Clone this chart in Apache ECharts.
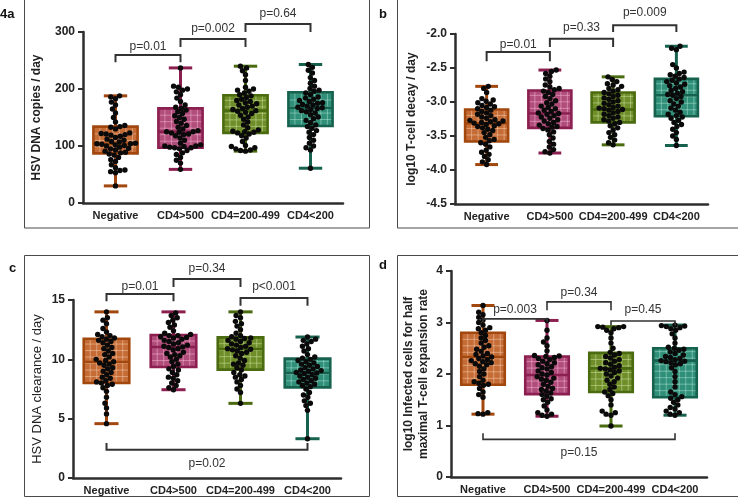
<!DOCTYPE html>
<html><head><meta charset="utf-8">
<script src="https://cdn.jsdelivr.net/npm/echarts@6/dist/echarts.min.js"></script>
<style>html,body{margin:0;padding:0;background:#fff}#c{width:738px;height:503px}</style>
</head><body><div id="c"></div>
<script>
// ---------- data ----------
const categories = ['Negative', 'CD4>500', 'CD4=200-499', 'CD4<200'];

// box statistics [min, Q1, median, Q3, max] per category
const boxA = [[30, 87, 104, 134, 188], [59, 97, 125, 166, 237], [91, 123, 162, 189, 240], [61, 135, 167, 194, 243]];
const boxB = [[-3.92, -3.58, -3.31, -3.11, -2.77], [-3.75, -3.38, -3.17, -2.83, -2.53], [-3.63, -3.30, -3.11, -2.86, -2.63], [-3.64, -3.21, -2.90, -2.66, -2.18]];
const boxC = [[4.58, 8.0, 9.78, 11.74, 14.0], [7.44, 9.35, 11.04, 12.05, 14.0], [6.29, 9.13, 10.87, 11.85, 14.0], [3.31, 7.64, 8.85, 10.06, 11.88]];
const boxD = [[1.22, 1.79, 2.33, 2.80, 3.33], [1.18, 1.61, 1.98, 2.34, 3.04], [0.99, 1.65, 2.11, 2.41, 2.92], [1.20, 1.55, 2.26, 2.50, 2.95]];

// individual points
const ptsA_neg = [30, 53, 55, 57, 58, 62, 67, 73, 76, 80, 84, 86, 88, 89, 91, 93, 95, 96, 98, 100, 101, 102, 103, 104, 104, 105, 107, 108, 110, 112, 115, 117, 119, 120, 121, 122, 123, 130, 134, 133, 136, 142, 150, 158, 165, 172, 177, 183, 186, 188];
const ptsA_500 = [59, 70, 75, 80, 85, 88, 92, 95, 97, 97, 98, 99, 100, 100, 102, 105, 110, 114, 118, 120, 121, 123, 124, 125, 125, 127, 130, 133, 136, 140, 143, 147, 150, 153, 157, 160, 163, 166, 168, 172, 178, 184, 190, 195, 198, 200, 203, 205, 237];
const ptsA_200 = [91, 92, 93, 95, 97, 99, 101, 108, 114, 118, 121, 123, 124, 125, 126, 128, 132, 137, 142, 147, 151, 154, 157, 159, 161, 162, 164, 166, 168, 170, 172, 174, 176, 178, 180, 182, 185, 188, 190, 193, 196, 198, 200, 203, 215, 225, 232, 237, 240];
const ptsA_lt = [61, 93, 97, 100, 105, 110, 115, 120, 124, 127, 131, 134, 137, 141, 145, 148, 151, 155, 158, 160, 162, 164, 166, 167, 168, 170, 172, 173, 175, 176, 178, 180, 182, 184, 186, 190, 193, 196, 198, 201, 205, 210, 215, 220, 228, 233, 238, 243];

const ptsB_neg = [-3.92, -3.88, -3.85, -3.80, -3.77, -3.74, -3.71, -3.66, -3.62, -3.60, -3.57, -3.55, -3.52, -3.48, -3.45, -3.42, -3.40, -3.38, -3.36, -3.35, -3.33, -3.32, -3.31, -3.30, -3.29, -3.28, -3.27, -3.26, -3.24, -3.22, -3.20, -3.18, -3.16, -3.14, -3.12, -3.10, -3.08, -3.07, -3.05, -3.03, -3.01, -2.99, -2.97, -2.95, -2.86, -2.80, -2.77];
const ptsB_500 = [-3.75, -3.73, -3.70, -3.66, -3.62, -3.58, -3.53, -3.48, -3.44, -3.41, -3.39, -3.37, -3.36, -3.34, -3.32, -3.30, -3.28, -3.26, -3.24, -3.22, -3.20, -3.18, -3.17, -3.16, -3.14, -3.12, -3.10, -3.08, -3.06, -3.03, -3.01, -2.98, -2.95, -2.92, -2.89, -2.86, -2.84, -2.82, -2.80, -2.78, -2.75, -2.70, -2.66, -2.62, -2.58, -2.55, -2.53];
const ptsB_200 = [-3.63, -3.60, -3.56, -3.52, -3.48, -3.45, -3.41, -3.38, -3.35, -3.32, -3.30, -3.28, -3.26, -3.24, -3.22, -3.20, -3.18, -3.16, -3.14, -3.12, -3.11, -3.10, -3.09, -3.08, -3.06, -3.04, -3.02, -3.00, -2.98, -2.96, -2.94, -2.92, -2.90, -2.88, -2.86, -2.84, -2.82, -2.80, -2.77, -2.75, -2.73, -2.70, -2.67, -2.63];
const ptsB_lt = [-3.64, -3.55, -3.50, -3.45, -3.40, -3.36, -3.33, -3.30, -3.27, -3.24, -3.22, -3.20, -3.18, -3.15, -3.12, -3.09, -3.06, -3.03, -3.00, -2.98, -2.95, -2.92, -2.90, -2.89, -2.87, -2.85, -2.83, -2.80, -2.78, -2.76, -2.74, -2.72, -2.70, -2.68, -2.66, -2.64, -2.62, -2.60, -2.58, -2.56, -2.50, -2.45, -2.23, -2.21, -2.18];

const ptsC_neg = [4.58, 5.4, 5.9, 6.3, 6.8, 7.3, 7.6, 7.8, 7.9, 8.0, 8.1, 8.2, 8.4, 8.5, 8.7, 8.9, 9.0, 9.2, 9.3, 9.5, 9.6, 9.7, 9.8, 9.9, 10.0, 10.2, 10.4, 10.5, 10.7, 10.9, 11.0, 11.2, 11.4, 11.5, 11.6, 11.7, 11.8, 11.9, 12.0, 12.1, 12.3, 12.6, 13.0, 13.3, 13.5, 14.0];
const ptsC_500 = [7.44, 7.6, 7.8, 8.0, 8.2, 8.4, 8.5, 8.7, 8.9, 9.1, 9.2, 9.4, 9.6, 9.8, 10.0, 10.2, 10.3, 10.4, 10.5, 10.6, 10.8, 10.9, 11.0, 11.05, 11.1, 11.2, 11.3, 11.4, 11.5, 11.6, 11.7, 11.8, 11.85, 11.9, 12.0, 12.0, 12.1, 12.2, 12.4, 12.7, 12.9, 13.1, 13.3, 13.5, 13.7, 13.9];
const ptsC_200 = [6.29, 7.2, 7.5, 7.8, 8.1, 8.3, 8.5, 8.6, 8.7, 8.9, 9.1, 9.3, 9.5, 9.6, 9.7, 9.9, 10.1, 10.3, 10.5, 10.6, 10.7, 10.8, 10.85, 10.9, 11.0, 11.1, 11.2, 11.3, 11.4, 11.5, 11.6, 11.7, 11.75, 11.8, 11.9, 12.0, 12.2, 12.5, 12.8, 13.0, 13.2, 13.5, 13.7, 14.0];
const ptsC_lt = [3.31, 5.7, 6.1, 6.3, 6.5, 6.8, 7.0, 7.2, 7.5, 7.7, 7.8, 7.9, 8.0, 8.1, 8.2, 8.3, 8.4, 8.5, 8.6, 8.7, 8.8, 8.85, 8.9, 9.0, 9.05, 9.1, 9.2, 9.3, 9.4, 9.5, 9.6, 9.7, 9.8, 9.9, 10.0, 10.1, 10.2, 10.4, 10.7, 10.9, 11.1, 11.3, 11.5, 11.6, 11.7, 11.88];

const ptsD_neg = [1.22, 1.23, 1.25, 1.55, 1.60, 1.65, 1.72, 1.78, 1.80, 1.82, 1.85, 1.88, 1.95, 2.0, 2.05, 2.10, 2.15, 2.18, 2.20, 2.22, 2.24, 2.26, 2.28, 2.30, 2.33, 2.35, 2.38, 2.40, 2.44, 2.48, 2.52, 2.55, 2.60, 2.65, 2.70, 2.75, 2.80, 2.85, 2.88, 2.90, 2.95, 3.00, 3.05, 3.10, 3.15, 3.20, 3.33];
const ptsD_500 = [1.18, 1.20, 1.22, 1.25, 1.30, 1.38, 1.45, 1.50, 1.52, 1.57, 1.60, 1.63, 1.67, 1.70, 1.72, 1.76, 1.80, 1.84, 1.88, 1.90, 1.92, 1.95, 1.98, 2.00, 2.03, 2.06, 2.10, 2.12, 2.14, 2.18, 2.20, 2.22, 2.25, 2.28, 2.30, 2.32, 2.34, 2.35, 2.36, 2.45, 2.55, 2.62, 2.70, 2.85, 3.04];
const ptsD_200 = [0.99, 1.20, 1.22, 1.25, 1.28, 1.40, 1.50, 1.58, 1.62, 1.65, 1.70, 1.75, 1.80, 1.85, 1.88, 1.92, 1.96, 2.00, 2.03, 2.06, 2.08, 2.10, 2.11, 2.13, 2.16, 2.19, 2.22, 2.25, 2.28, 2.31, 2.34, 2.37, 2.40, 2.42, 2.50, 2.60, 2.70, 2.80, 2.85, 2.88, 2.90, 2.91, 2.92, 2.92];
const ptsD_lt = [1.20, 1.22, 1.25, 1.28, 1.32, 1.35, 1.40, 1.45, 1.50, 1.53, 1.56, 1.60, 1.65, 1.75, 1.85, 1.95, 2.05, 2.12, 2.18, 2.20, 2.22, 2.24, 2.25, 2.26, 2.28, 2.30, 2.32, 2.34, 2.37, 2.40, 2.43, 2.46, 2.48, 2.50, 2.52, 2.60, 2.70, 2.78, 2.85, 2.88, 2.90, 2.92, 2.93, 2.94, 2.95];

// significance brackets: [fromCat, toCat, barValue, legValue]
const bracketsA = [[0, 1, 259.6, 247], [1, 2, 287.7, 273.7], [2, 3, 314, 300]];
const pTextA = ['p=0.01', 'p=0.002', 'p=0.64'];
const pTextYA = [275, 305, 331.5];
const bracketsB = [[0, 1, -2.265, -2.40], [1, 2, -2.07, -2.19], [2, 3, -1.87, -1.97]];
const pTextB = ['p=0.01', 'p=0.33', 'p=0.009'];
const pTextYB = [-2.15, -1.91, -1.69];
const bracketsC = [[0, 1, 15.5, 14.89], [1, 2, 16.77, 16.1], [2, 3, 15.17, 14.52], [0, 3, 2.39, 2.95]];
const pTextC = ['p=0.01', 'p=0.34', 'p<0.001', 'p=0.02'];
const pTextYC = [16.15, 17.6, 16.1, 1.18];
const bracketsD = [[0, 1, 3.07, 3.01], [1, 2, 3.40, 3.24], [2, 3, 3.03, 2.94], [0, 3, 0.73, 0.85]];
const pTextD = ['p=0.003', 'p=0.34', 'p=0.45', 'p=0.15'];
const pTextYD = [3.24, 3.57, 3.24, 0.47];

// y axis ranges and ticks
const yRangeA = [0, 300, 100];
const yRangeB = [-4.5, -2.0, 0.5];
const yRangeC = [0, 15, 5];
const yRangeD = [0, 4, 1];

// ---------- styles ----------
const fills = ['#c46b36', '#b14d7b', '#6f8e2a', '#2f8f78'];
const borders = ['#a2480f', '#8b1f50', '#4b6b10', '#17624f'];
const gridLn = ['rgba(255,220,190,0.45)', 'rgba(255,200,225,0.45)', 'rgba(220,240,180,0.45)', 'rgba(190,240,225,0.45)'];
const axisColor = '#2e2e2e';
const fontFam = '"Liberation Sans", Arial, sans-serif';

const panels = [
  { box: boxA, pts: [ptsA_neg, ptsA_500, ptsA_200, ptsA_lt], br: bracketsA, pt: pTextA, pty: pTextYA, yr: yRangeA,
    grid: { left: 83, top: 32, width: 260, height: 171 }, name: 'HSV DNA copies / day', nameGap: 40, nameFont: { fontSize: 12, fontWeight: 'bold' }, fmt: v => String(v), brW: 2 },
  { box: boxB, pts: [ptsB_neg, ptsB_500, ptsB_200, ptsB_lt], br: bracketsB, pt: pTextB, pty: pTextYB, yr: yRangeB,
    grid: { left: 455, top: 34, width: 253, height: 170 }, name: 'log10 T-cell decay / day', nameGap: 37, nameFont: { fontSize: 12, fontWeight: 'bold' }, fmt: v => v.toFixed(1), brW: 2 },
  { box: boxC, pts: [ptsC_neg, ptsC_500, ptsC_200, ptsC_lt], br: bracketsC, pt: pTextC, pty: pTextYC, yr: yRangeC,
    grid: { left: 73, top: 300, width: 268, height: 178 }, name: 'HSV DNA clearance / day', nameGap: 29, nameFont: { fontSize: 13, fontWeight: 'normal' }, fmt: v => String(v), brW: 2 },
  { box: boxD, pts: [ptsD_neg, ptsD_500, ptsD_200, ptsD_lt], br: bracketsD, pt: pTextD, pty: pTextYD, yr: yRangeD,
    grid: { left: 451, top: 271, width: 256, height: 206 }, name: 'log10 Infected cells for half\nmaximal T-cell expansion rate', nameGap: 20, nameFont: { fontSize: 12, fontWeight: 'bold', lineHeight: 15 }, fmt: v => String(v), brW: 1.6 }
];

// deterministic beeswarm offsets (pixels) from values
function swarm(values, ppu, d) {
  const idx = values.map((v, i) => i).sort((a, b) => values[a] - values[b]);
  const placed = [];
  const off = new Array(values.length);
  for (const i of idx) {
    const y = values[i] * ppu;
    const near = placed.filter(p => Math.abs(p.y - y) < d);
    const cands = [0];
    for (const p of near) {
      const dx = Math.sqrt(d * d - (p.y - y) * (p.y - y));
      cands.push(p.x + dx, p.x - dx);
    }
    cands.sort((a, b) => Math.abs(a) - Math.abs(b) || a - b);
    let x = 0;
    for (const c of cands) {
      if (near.every(p => (p.x - c) * (p.x - c) + (p.y - y) * (p.y - y) >= d * d - 1e-6)) { x = c; break; }
    }
    placed.push({ x, y });
    off[i] = x;
  }
  return off;
}

function renderBox(params, api) {
  const c = api.value(0);
  const pMin = api.coord([c, api.value(1)]);
  const pQ1 = api.coord([c, api.value(2)]);
  const pMed = api.coord([c, api.value(3)]);
  const pQ3 = api.coord([c, api.value(4)]);
  const pMax = api.coord([c, api.value(5)]);
  const band = api.size([1, 0])[0];
  const bw = band * 0.68, cw = band * 0.36;
  const x = pMed[0];
  const col = borders[c], fill = fills[c];
  const lw = 2.6;
  const ch = [];
  ch.push({ type: 'line', shape: { x1: x, y1: pMax[1], x2: x, y2: pQ3[1] }, style: { stroke: col, lineWidth: 3 } });
  ch.push({ type: 'line', shape: { x1: x, y1: pQ1[1], x2: x, y2: pMin[1] }, style: { stroke: col, lineWidth: 3 } });
  ch.push({ type: 'line', shape: { x1: x - cw / 2, y1: pMax[1], x2: x + cw / 2, y2: pMax[1] }, style: { stroke: col, lineWidth: 3 } });
  ch.push({ type: 'line', shape: { x1: x - cw / 2, y1: pMin[1], x2: x + cw / 2, y2: pMin[1] }, style: { stroke: col, lineWidth: 3 } });
  const left = x - bw / 2, top = pQ3[1], h = pQ1[1] - pQ3[1];
  ch.push({ type: 'rect', shape: { x: left, y: top, width: bw, height: h }, style: { fill: fill, stroke: null } });
  const step = 6.5;
  for (let gx = left + step; gx < left + bw - 1; gx += step)
    ch.push({ type: 'line', shape: { x1: gx, y1: top, x2: gx, y2: top + h }, style: { stroke: gridLn[c], lineWidth: 1 } });
  for (let gy = top + h - step; gy > top + 1; gy -= step)
    ch.push({ type: 'line', shape: { x1: left, y1: gy, x2: left + bw, y2: gy }, style: { stroke: gridLn[c], lineWidth: 1 } });
  ch.push({ type: 'rect', shape: { x: left, y: top, width: bw, height: h }, style: { fill: null, stroke: col, lineWidth: lw } });
  ch.push({ type: 'line', shape: { x1: left, y1: pMed[1], x2: left + bw, y2: pMed[1] }, style: { stroke: col, lineWidth: lw } });
  return { type: 'group', children: ch };
}

function renderPoint(params, api) {
  const p = api.coord([api.value(0), api.value(1)]);
  return { type: 'circle', shape: { cx: p[0] + api.value(2), cy: p[1], r: 2.7 }, style: { fill: '#0a0a0a' } };
}

function makeBracketRenderer(panel) {
  return function (params, api) {
    const i = params.dataIndex;
    const a = api.value(0), b = api.value(1), bar = api.value(2), leg = api.value(3);
    const pA = api.coord([a, bar]), pB = api.coord([b, bar]);
    const lA = api.coord([a, leg]), lB = api.coord([b, leg]);
    const ty = api.coord([a, panel.pty[i]])[1];
    const tx = (pA[0] + pB[0]) / 2;
    return {
      type: 'group', children: [
        { type: 'polyline', shape: { points: [lA, pA, pB, lB] }, style: { stroke: '#333', lineWidth: panel.brW, fill: null } },
        { type: 'text', x: tx, y: ty, style: { text: panel.pt[i], fill: '#333', font: '12px ' + fontFam, align: 'center', verticalAlign: 'middle' } }
      ]
    };
  };
}

const grids = [], xAxes = [], yAxes = [], series = [];
panels.forEach((pn, k) => {
  grids.push(Object.assign({ containLabel: false }, pn.grid));
  xAxes.push({
    type: 'category', gridIndex: k, data: categories,
    axisLine: { lineStyle: { color: axisColor, width: 2.5 } },
    axisTick: { alignWithLabel: true, length: 5, lineStyle: { color: axisColor, width: 2 } },
    axisLabel: { interval: 0, color: '#222', fontWeight: 'bold', fontSize: 11, fontFamily: fontFam, margin: 7 },
    splitLine: { show: false }
  });
  yAxes.push({
    type: 'value', gridIndex: k, min: pn.yr[0], max: pn.yr[1], interval: pn.yr[2],
    name: pn.name, nameLocation: 'middle', nameRotate: 90, nameGap: pn.nameGap,
    nameTextStyle: Object.assign({ color: '#222', fontFamily: fontFam }, pn.nameFont),
    axisLine: { show: true, lineStyle: { color: axisColor, width: 2.5 } },
    axisTick: { show: true, length: 5, lineStyle: { color: axisColor, width: 2 } },
    axisLabel: { color: '#222', fontWeight: 'bold', fontSize: 12, fontFamily: fontFam, margin: 8, formatter: pn.fmt },
    splitLine: { show: false }
  });
  series.push({
    type: 'custom', xAxisIndex: k, yAxisIndex: k, z: 2, renderItem: renderBox,
    encode: { x: 0, y: [1, 2, 3, 4, 5] },
    data: pn.box.map((b, i) => [i].concat(b))
  });
  const ppu = pn.grid.height / (pn.yr[1] - pn.yr[0]);
  const ptData = [];
  pn.pts.forEach((arr, i) => {
    const off = swarm(arr, ppu, 5.0);
    arr.forEach((v, j) => ptData.push([i, v, off[j]]));
  });
  series.push({
    type: 'custom', xAxisIndex: k, yAxisIndex: k, z: 3, renderItem: renderPoint,
    encode: { x: 0, y: 1 }, data: ptData
  });
  series.push({
    type: 'custom', xAxisIndex: k, yAxisIndex: k, z: 4, renderItem: makeBracketRenderer(pn),
    encode: { x: [0, 1], y: 2 }, data: pn.br
  });
});

const frameStyle = { fill: 'none', stroke: '#4a4a4a', lineWidth: 1 };
const lblStyle = { fill: '#111', font: 'bold 13px ' + fontFam };
const graphic = [
  { type: 'rect', shape: { x: 24.5, y: -5, width: 345, height: 233 }, style: frameStyle, silent: true },
  { type: 'rect', shape: { x: 397.5, y: -5, width: 350, height: 233 }, style: frameStyle, silent: true },
  { type: 'rect', shape: { x: 24.5, y: 255.5, width: 345, height: 241 }, style: frameStyle, silent: true },
  { type: 'rect', shape: { x: 397.5, y: 255.5, width: 350, height: 241 }, style: frameStyle, silent: true },
  { type: 'text', x: 0, y: 8, style: Object.assign({ text: '4a' }, lblStyle) },
  { type: 'text', x: 379, y: 8, style: Object.assign({ text: 'b' }, lblStyle) },
  { type: 'text', x: 9, y: 262, style: Object.assign({ text: 'c' }, lblStyle) },
  { type: 'text', x: 379, y: 259, style: Object.assign({ text: 'd' }, lblStyle) }
];

const chart = echarts.init(document.getElementById('c'), null, { renderer: 'canvas' });
chart.setOption({
  animation: false,
  backgroundColor: '#fff',
  textStyle: { fontFamily: fontFam },
  grid: grids, xAxis: xAxes, yAxis: yAxes, series: series, graphic: graphic
});
</script></body></html>
